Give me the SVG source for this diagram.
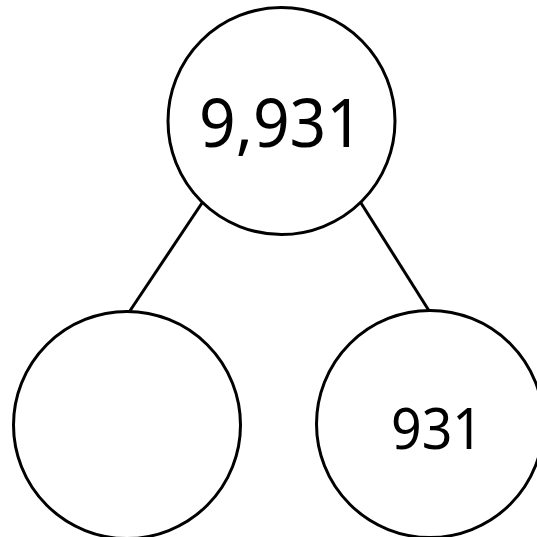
<svg xmlns="http://www.w3.org/2000/svg" width="537" height="537" viewBox="0 0 537 537">
<style>
.node{fill:#fff;stroke:#000;stroke-width:3}
.edge{stroke:#000;stroke-width:3;fill:none}
.lbl{font-family:"Noto Sans","Open Sans","DejaVu Sans",sans-serif;fill:#000;text-anchor:middle}
</style>
<rect width="537" height="537" fill="#fff"/>
<g id="connectors">
<line class="edge" x1="202" y1="203" x2="129.5" y2="311.5"/>
<line class="edge" x1="361" y1="203" x2="429.5" y2="311.5"/>
</g>
<g id="top">
<circle class="node" cx="281.5" cy="121" r="113.5"/>
<text class="lbl" x="281" y="147" font-size="68" textLength="164" lengthAdjust="spacingAndGlyphs">9,931</text>
</g>
<g id="left">
<circle class="node" cx="127" cy="425" r="113.5"/>
</g>
<g id="right">
<circle class="node" cx="430" cy="424" r="113.5"/>
<text class="lbl" x="437" y="449" font-size="57" textLength="92" lengthAdjust="spacingAndGlyphs">931</text>
</g>
</svg>
